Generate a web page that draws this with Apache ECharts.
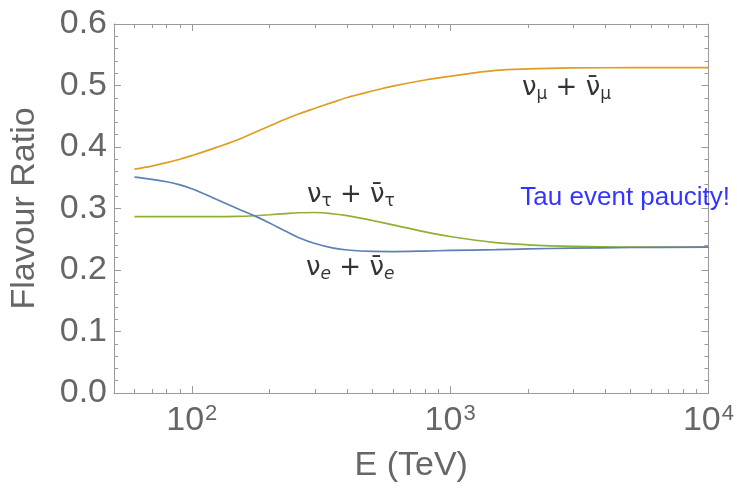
<!DOCTYPE html>
<html>
<head>
<meta charset="utf-8">
<script src="https://cdn.jsdelivr.net/npm/echarts@6/dist/echarts.min.js"></script>
<style>
  html, body { margin: 0; padding: 0; background: #fff; }
  #chart { width: 737px; height: 490px; }
</style>
</head>
<body>
<div id="chart"></div>
<script>
// Neutrino energies (TeV) at which the flavour ratios are sampled
const energy = [60, 70, 80, 90, 100, 120, 150, 175, 200, 230, 260, 300, 350, 400, 500, 600, 800, 1000, 1500, 2000, 3000, 5000, 10000];

// Flavour ratios at Earth
const ratioMu  = [0.364, 0.369, 0.3745, 0.380, 0.386, 0.397, 0.4115, 0.4235, 0.434, 0.445, 0.454, 0.463, 0.4725, 0.4805, 0.491, 0.499, 0.509, 0.515, 0.5245, 0.527, 0.5285, 0.529, 0.529];
const ratioTau = [0.2869, 0.2869, 0.2869, 0.2869, 0.2869, 0.2869, 0.2872, 0.2882, 0.2898, 0.2917, 0.2931, 0.2935, 0.2915, 0.2885, 0.2805, 0.2735, 0.262, 0.2545, 0.2445, 0.241, 0.2385, 0.2373, 0.2372];
const ratioE   = [0.351, 0.3475, 0.3435, 0.3385, 0.332, 0.318, 0.300, 0.288, 0.2765, 0.2635, 0.2525, 0.2430, 0.2360, 0.2325, 0.2302, 0.2300, 0.2308, 0.2318, 0.2330, 0.2343, 0.2355, 0.2366, 0.2372];

// Axis ticks
const xMajorTicks = [100, 1000, 10000];
const xMinorTicks = [60, 70, 80, 90, 200, 300, 400, 500, 600, 700, 800, 900, 2000, 3000, 4000, 5000, 6000, 7000, 8000, 9000];

// Curve annotations: [energy, ratio]
const labelMuPos  = [1898, 0.496];
const labelTauPos = [279, 0.3214];
const labelEPos   = [277, 0.2024];
const notePos     = [1870, 0.3175];
const noteText    = 'Tau event paucity!';

const frameColor = '#9a9a9a';
const tickTextColor = '#666666';
const fontFam = '"Liberation Sans", Arial, sans-serif';
const greekFam = '"DejaVu Sans", sans-serif';
const colMu = '#E19C24', colTau = '#8FB032', colE = '#5E81B5';

const zip = (xs, ys) => xs.map((x, i) => [x, ys[i]]);

function xAxisDef(position, ticks, len, showLine, showLabel) {
  return {
    type: 'log', logBase: 10, min: 50, max: 10000, position: position, gridIndex: 0,
    axisLine: { show: showLine, onZero: false, lineStyle: { color: frameColor, width: 1 } },
    axisTick: { show: true, inside: true, length: len, customValues: ticks, lineStyle: { color: frameColor, width: 1 } },
    axisLabel: showLabel ? {
      show: true, customValues: xMajorTicks, margin: 10,
      formatter: v => '{b|10}{s|' + Math.round(Math.log10(v)) + '}',
      rich: {
        b: { fontSize: 34, fontFamily: fontFam, color: tickTextColor, lineHeight: 36 },
        s: { fontSize: 22, fontFamily: fontFam, color: tickTextColor, verticalAlign: 'top', lineHeight: 24, padding: [0, 0, 0, 1] }
      }
    } : { show: false },
    splitLine: { show: false },
    minorTick: { show: false }
  };
}

function yAxisDef(position, showLabel) {
  return {
    type: 'value', min: 0, max: 0.6, interval: 0.1, position: position, gridIndex: 0,
    axisLine: { show: true, onZero: false, lineStyle: { color: frameColor, width: 1 } },
    axisTick: { show: true, inside: true, length: 7, lineStyle: { color: frameColor, width: 1 } },
    minorTick: { show: true, splitNumber: 5, length: 4, lineStyle: { color: frameColor, width: 1 } },
    axisLabel: showLabel ? {
      show: true, margin: 7, fontSize: 34, fontFamily: fontFam, color: tickTextColor,
      formatter: v => v.toFixed(1)
    } : { show: false },
    splitLine: { show: false }
  };
}

function curve(name, data, color) {
  return {
    name: name, type: 'line', data: data, smooth: 0.35,
    showSymbol: false, symbol: 'none',
    xAxisIndex: 0, yAxisIndex: 0,
    lineStyle: { color: color, width: 1.7 }, silent: true, animation: false, z: 3
  };
}

const nuRich = {
  n: { fontSize: 26, fontFamily: greekFam, color: '#000', lineHeight: 30 },
  s: { fontSize: 17, fontFamily: greekFam, color: '#000', verticalAlign: 'bottom', lineHeight: 16 },
  i: { fontSize: 17, fontFamily: greekFam, color: '#000', verticalAlign: 'bottom', lineHeight: 16, fontStyle: 'italic' }
};

function textMark(pos, text, rich) {
  return {
    type: 'scatter', xAxisIndex: 0, yAxisIndex: 0, symbolSize: 0, silent: true, animation: false,
    data: [pos], z: 5,
    label: {
      show: true, position: [0, 0], align: 'left', verticalAlign: 'middle',
      formatter: () => text, rich: rich
    }
  };
}

const chart = echarts.init(document.getElementById('chart'), null, { renderer: 'canvas' });
chart.setOption({
  backgroundColor: '#ffffff',
  animation: false,
  grid: { left: 110, right: 27, top: 24, bottom: 97, containLabel: false },
  xAxis: [
    Object.assign(xAxisDef('bottom', xMajorTicks, 7, true, true), {
      name: 'E (TeV)', nameLocation: 'middle', nameGap: 56,
      nameTextStyle: { fontSize: 34, fontFamily: fontFam, color: tickTextColor }
    }),
    xAxisDef('bottom', xMinorTicks, 4, false, false),
    xAxisDef('top', xMajorTicks, 7, true, false),
    xAxisDef('top', xMinorTicks, 4, false, false)
  ],
  yAxis: [
    Object.assign(yAxisDef('left', true), {
      name: 'Flavour Ratio', nameLocation: 'middle', nameGap: 72,
      nameTextStyle: { fontSize: 34, fontFamily: fontFam, color: tickTextColor }
    }),
    yAxisDef('right', false)
  ],
  series: [
    curve('nu_mu', zip(energy, ratioMu), colMu),
    curve('nu_tau', zip(energy, ratioTau), colTau),
    curve('nu_e', zip(energy, ratioE), colE),
    textMark(labelMuPos, '{n|ν}{s|μ}{n| + ν\u0304}{s|μ}', nuRich),
    textMark(labelTauPos, '{n|ν}{s|τ}{n| + ν\u0304}{s|τ}', nuRich),
    textMark(labelEPos, '{n|ν}{i|e}{n| + ν\u0304}{i|e}', nuRich),
    textMark(notePos, '{t|' + noteText + '}', {
      t: { fontSize: 26, fontFamily: fontFam, color: '#0000ff' }
    })
  ]
});
</script>
</body>
</html>
